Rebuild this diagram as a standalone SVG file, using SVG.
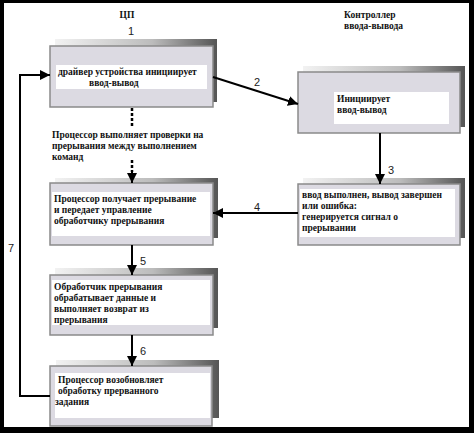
<svg xmlns="http://www.w3.org/2000/svg" width="474" height="433" viewBox="0 0 474 433">
<defs>
<linearGradient id="sh" x1="0" y1="0" x2="1" y2="0">
<stop offset="0" stop-color="#f2f2f2"/>
<stop offset="0.6" stop-color="#bcbcbc"/>
<stop offset="1" stop-color="#555"/>
</linearGradient>
<marker id="ah" viewBox="0 0 10 10" refX="10" refY="5" markerWidth="10" markerHeight="10" markerUnits="userSpaceOnUse" orient="auto">
<path d="M0,0 L10,5 L0,10 z" fill="#000"/>
</marker>
</defs>
<style>
.shadow{fill:url(#sh)}
.main{fill:#dcdae2;stroke:#8a8a8a;stroke-width:1.5}
.inner{fill:#fff}
.t{font-family:"Liberation Serif",serif;font-weight:bold;font-size:9.5px;fill:#111}
.n{font-family:"Liberation Sans",sans-serif;font-size:11px;fill:#222}
.c{stroke:#000;stroke-width:2;fill:none}
.d{stroke:#000;stroke-width:2.5;fill:none;stroke-dasharray:3,2}
</style>
<rect width="474" height="433" fill="#000"/>
<rect x="4" y="3" width="465" height="424" fill="#fff"/>
<text class="t" x="127" y="18" text-anchor="middle" font-size="11">ЦП</text>
<text class="n" x="131" y="35" text-anchor="middle">1</text>
<text class="t" x="344" y="18">Контроллер</text>
<text class="t" x="344" y="29">ввода-вывода</text>

<g id="node1">
<rect class="shadow" x="55" y="39" width="162" height="63"/>
<rect class="main" x="50" y="46" width="163" height="61"/>
<rect class="inner" x="56" y="65" width="151" height="24"/>
<text class="t" x="58" y="75">драйвер устройства инициирует</text>
<text class="t" x="89" y="86">ввод-вывод</text>
</g>

<g id="note">
<text class="t" x="52" y="138"> Процессор выполняет проверки на</text>
<text class="t" x="52" y="149">прерывания между выполнением</text>
<text class="t" x="52" y="160">команд</text>
</g>

<g id="node2">
<rect class="shadow" x="55" y="178" width="163" height="60"/>
<rect class="main" x="50" y="183" width="163" height="62"/>
<rect class="inner" x="52" y="192" width="158" height="44"/>
<text class="t" x="54" y="202">Процессор получает прерывание</text>
<text class="t" x="54" y="213">и передает управление</text>
<text class="t" x="54" y="224">обработчику прерывания</text>
</g>

<g id="node3">
<rect class="shadow" x="55" y="268" width="163" height="60"/>
<rect class="main" x="50" y="275" width="163" height="60"/>
<rect class="inner" x="52" y="280" width="158" height="45"/>
<text class="t" x="54" y="290">Обработчик прерывания</text>
<text class="t" x="54" y="301">обрабатывает данные и</text>
<text class="t" x="54" y="312">выполняет возврат из</text>
<text class="t" x="54" y="323">прерывания</text>
</g>

<g id="node4">
<rect class="shadow" x="56" y="360" width="163" height="58"/>
<rect class="main" x="50" y="366" width="162" height="60"/>
<rect class="inner" x="55" y="373" width="155" height="45"/>
<text class="t" x="58" y="383">Процессор возобновляет</text>
<text class="t" x="58" y="394"> обработку прерванного</text>
<text class="t" x="55" y="405">задания</text>
</g>

<g id="nodeR1">
<rect class="shadow" x="303" y="66" width="162" height="61"/>
<rect class="main" x="298" y="72" width="162" height="61"/>
<rect class="inner" x="334" y="92" width="115" height="32"/>
<text class="t" x="337" y="102">Инициирует</text>
<text class="t" x="337" y="113">ввод-вывод</text>
</g>

<g id="nodeR2">
<rect class="shadow" x="303" y="178" width="162" height="60"/>
<rect class="main" x="298" y="184" width="162" height="61"/>
<rect class="inner" x="300" y="189" width="155" height="48"/>
<text class="t" x="302" y="198">ввод выполнен, вывод завершен</text>
<text class="t" x="302" y="209">или ошибка:</text>
<text class="t" x="302" y="220">генерируется сигнал о</text>
<text class="t" x="302" y="231">прерывании</text>
</g>

<g id="connectors">
<path class="d" d="M132,108 V127"/>
<path class="d" d="M132,160 V172"/>
<path class="c" d="M132,172 V183" marker-end="url(#ah)"/>
<path class="c" d="M213,77 L298,104" marker-end="url(#ah)"/>
<path class="c" d="M380,133 V184" marker-end="url(#ah)"/>
<path class="c" d="M298,213 H213" marker-end="url(#ah)"/>
<path class="c" d="M132,245 V275" marker-end="url(#ah)"/>
<path class="c" d="M132,335 V366" marker-end="url(#ah)"/>
<path class="c" d="M50,396 H20 V75 H50" marker-end="url(#ah)"/>
<text class="n" x="257" y="86" text-anchor="middle">2</text>
<text class="n" x="391" y="174" text-anchor="middle">3</text>
<text class="n" x="257" y="211" text-anchor="middle">4</text>
<text class="n" x="143" y="265" text-anchor="middle">5</text>
<text class="n" x="143" y="355" text-anchor="middle">6</text>
<text class="n" x="11" y="252" text-anchor="middle">7</text>
</g>
</svg>
